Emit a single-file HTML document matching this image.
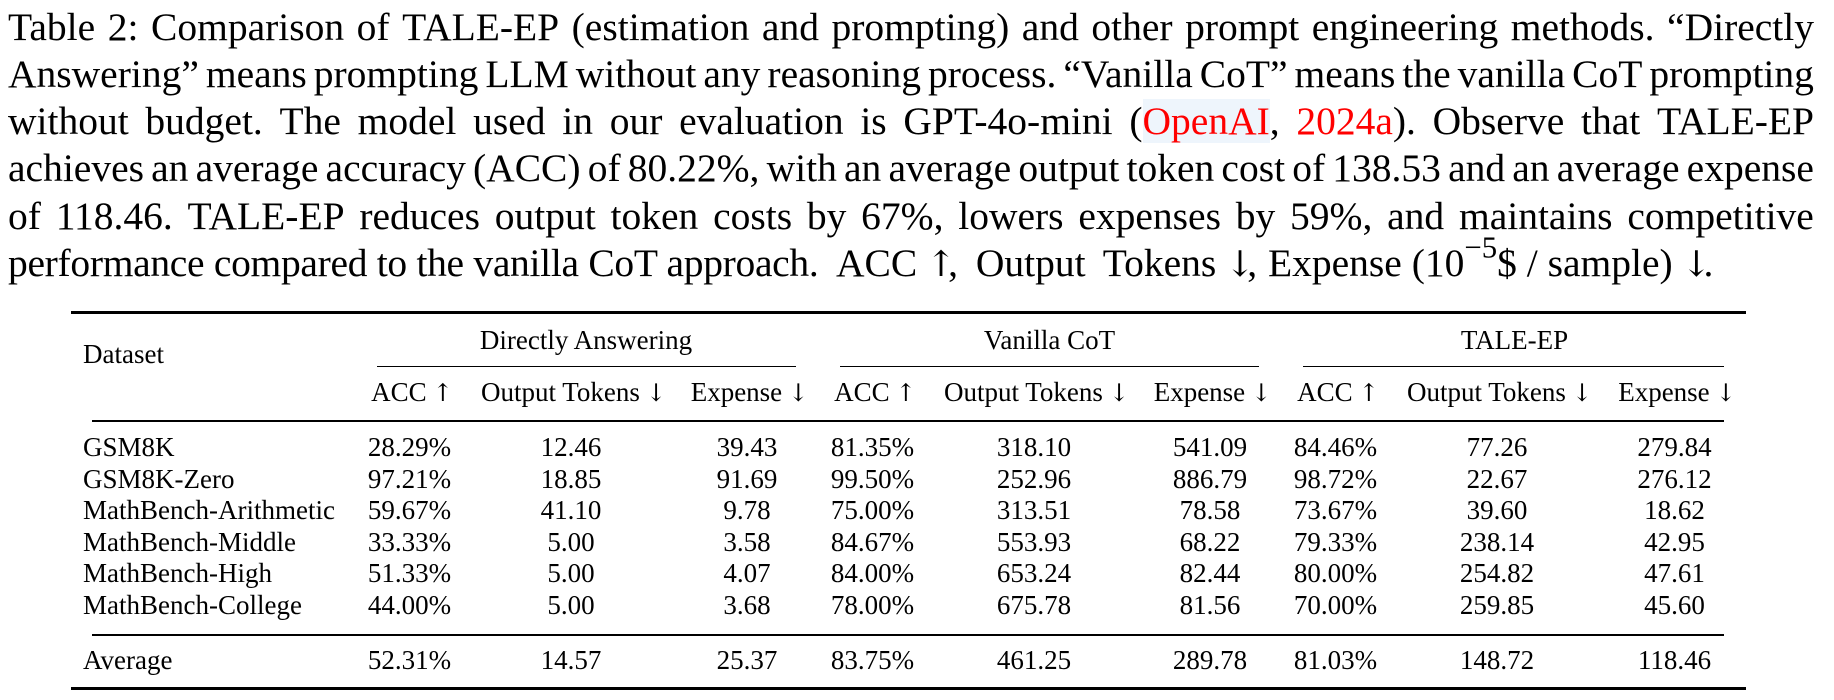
<!DOCTYPE html>
<html>
<head>
<meta charset="utf-8">
<style>
  html,body{margin:0;padding:0;background:#fff;}
  body{width:1834px;height:700px;position:relative;overflow:hidden;
       font-family:"Liberation Serif","DejaVu Serif",serif;color:#000;}
  .cap{position:absolute;left:8px;width:1806px;display:flex;justify-content:space-between;
       font-size:39.5px;line-height:47.2px;white-space:nowrap;}
  .cap6{position:absolute;font-size:39.5px;line-height:47.2px;white-space:nowrap;}
  .red{color:#f00;}
  .hl{background:#eef5fc;}
  .a{display:inline-block;width:0.62em;margin-left:0.25em;text-align:center;
     font-family:"DejaVu Serif","Liberation Serif",serif;font-size:0.9em;}
  .rule{position:absolute;background:#000;}
  .row{position:absolute;left:0;width:1834px;height:27px;font-size:27px;line-height:27px;white-space:nowrap;}
  .c{position:absolute;width:240px;text-align:center;top:0;}
  .l{position:absolute;left:83px;top:0;}
  sup{font-size:0.78em;line-height:0;vertical-align:0.6em;}
</style>
</head>
<body>

<!-- Caption -->
<div class="cap" style="top:3.8px">
<span>Table</span><span>2:</span><span>Comparison</span><span>of</span><span>TALE-EP</span><span>(estimation</span><span>and</span><span>prompting)</span><span>and</span><span>other</span><span>prompt</span><span>engineering</span><span>methods.</span><span>“Directly</span>
</div>
<div class="cap" style="top:51px">
<span>Answering”</span><span>means</span><span>prompting</span><span>LLM</span><span>without</span><span>any</span><span>reasoning</span><span>process.</span><span>“Vanilla</span><span>CoT”</span><span>means</span><span>the</span><span>vanilla</span><span>CoT</span><span>prompting</span>
</div>
<div class="cap" style="top:98.2px">
<span>without</span><span>budget.</span><span>The</span><span>model</span><span>used</span><span>in</span><span>our</span><span>evaluation</span><span>is</span><span>GPT-4o-mini</span><span>(<span class="red hl">OpenAI</span>,</span><span><span class="red">2024a</span>).</span><span>Observe</span><span>that</span><span>TALE-EP</span>
</div>
<div class="cap" style="top:145.4px">
<span>achieves</span><span>an</span><span>average</span><span>accuracy</span><span>(ACC)</span><span>of</span><span>80.22%,</span><span>with</span><span>an</span><span>average</span><span>output</span><span>token</span><span>cost</span><span>of</span><span>138.53</span><span>and</span><span>an</span><span>average</span><span>expense</span>
</div>
<div class="cap" style="top:192.6px">
<span>of</span><span>118.46.</span><span>TALE-EP</span><span>reduces</span><span>output</span><span>token</span><span>costs</span><span>by</span><span>67%,</span><span>lowers</span><span>expenses</span><span>by</span><span>59%,</span><span>and</span><span>maintains</span><span>competitive</span>
</div>
<div class="cap6" style="top:239.8px;left:8px;letter-spacing:-0.3px">performance compared to the vanilla CoT approach.</div>
<div class="cap6" style="top:239.8px;left:836px;word-spacing:8px">ACC<span class="a">↑</span>, Output Tokens<span class="a">↓</span>,</div>
<div class="cap6" style="top:239.8px;left:1268px">Expense (10<sup>−5</sup>$ / sample)<span class="a">↓</span>.</div>

<!-- Rules -->
<div class="rule" style="left:71px;width:1675px;top:310.5px;height:3.3px"></div>
<div class="rule" style="left:377px;width:419px;top:366px;height:1.4px"></div>
<div class="rule" style="left:840px;width:419px;top:366px;height:1.4px"></div>
<div class="rule" style="left:1303px;width:421px;top:366px;height:1.4px"></div>
<div class="rule" style="left:92px;width:1632px;top:420px;height:2px"></div>
<div class="rule" style="left:92px;width:1632px;top:634.3px;height:1.9px"></div>
<div class="rule" style="left:71px;width:1675px;top:687px;height:3.2px"></div>

<!-- Header row 1 -->
<div class="row" style="top:327.4px">
  <div class="c" style="left:466px">Directly Answering</div>
  <div class="c" style="left:929.5px">Vanilla CoT</div>
  <div class="c" style="left:1394.5px">TALE-EP</div>
</div>
<div class="row" style="top:341.4px">
  <div class="l">Dataset</div>
</div>

<!-- Header row 2 -->
<div class="row" style="top:379.1px">
  <div class="c" style="left:289.5px">ACC<span class="a">↑</span></div>
  <div class="c" style="left:451px">Output Tokens<span class="a">↓</span></div>
  <div class="c" style="left:627px">Expense<span class="a">↓</span></div>
  <div class="c" style="left:752.5px">ACC<span class="a">↑</span></div>
  <div class="c" style="left:914px">Output Tokens<span class="a">↓</span></div>
  <div class="c" style="left:1090px">Expense<span class="a">↓</span></div>
  <div class="c" style="left:1215.5px">ACC<span class="a">↑</span></div>
  <div class="c" style="left:1377px">Output Tokens<span class="a">↓</span></div>
  <div class="c" style="left:1554.5px">Expense<span class="a">↓</span></div>
</div>

<!-- Data rows -->
<div class="row" style="top:434.4px">
  <div class="l">GSM8K</div>
  <div class="c" style="left:289.5px">28.29%</div>
  <div class="c" style="left:451px">12.46</div>
  <div class="c" style="left:627px">39.43</div>
  <div class="c" style="left:752.5px">81.35%</div>
  <div class="c" style="left:914px">318.10</div>
  <div class="c" style="left:1090px">541.09</div>
  <div class="c" style="left:1215.5px">84.46%</div>
  <div class="c" style="left:1377px">77.26</div>
  <div class="c" style="left:1554.5px">279.84</div>
</div>
<div class="row" style="top:465.9px">
  <div class="l">GSM8K-Zero</div>
  <div class="c" style="left:289.5px">97.21%</div>
  <div class="c" style="left:451px">18.85</div>
  <div class="c" style="left:627px">91.69</div>
  <div class="c" style="left:752.5px">99.50%</div>
  <div class="c" style="left:914px">252.96</div>
  <div class="c" style="left:1090px">886.79</div>
  <div class="c" style="left:1215.5px">98.72%</div>
  <div class="c" style="left:1377px">22.67</div>
  <div class="c" style="left:1554.5px">276.12</div>
</div>
<div class="row" style="top:497.4px">
  <div class="l">MathBench-Arithmetic</div>
  <div class="c" style="left:289.5px">59.67%</div>
  <div class="c" style="left:451px">41.10</div>
  <div class="c" style="left:627px">9.78</div>
  <div class="c" style="left:752.5px">75.00%</div>
  <div class="c" style="left:914px">313.51</div>
  <div class="c" style="left:1090px">78.58</div>
  <div class="c" style="left:1215.5px">73.67%</div>
  <div class="c" style="left:1377px">39.60</div>
  <div class="c" style="left:1554.5px">18.62</div>
</div>
<div class="row" style="top:528.9px">
  <div class="l">MathBench-Middle</div>
  <div class="c" style="left:289.5px">33.33%</div>
  <div class="c" style="left:451px">5.00</div>
  <div class="c" style="left:627px">3.58</div>
  <div class="c" style="left:752.5px">84.67%</div>
  <div class="c" style="left:914px">553.93</div>
  <div class="c" style="left:1090px">68.22</div>
  <div class="c" style="left:1215.5px">79.33%</div>
  <div class="c" style="left:1377px">238.14</div>
  <div class="c" style="left:1554.5px">42.95</div>
</div>
<div class="row" style="top:560.4px">
  <div class="l">MathBench-High</div>
  <div class="c" style="left:289.5px">51.33%</div>
  <div class="c" style="left:451px">5.00</div>
  <div class="c" style="left:627px">4.07</div>
  <div class="c" style="left:752.5px">84.00%</div>
  <div class="c" style="left:914px">653.24</div>
  <div class="c" style="left:1090px">82.44</div>
  <div class="c" style="left:1215.5px">80.00%</div>
  <div class="c" style="left:1377px">254.82</div>
  <div class="c" style="left:1554.5px">47.61</div>
</div>
<div class="row" style="top:591.9px">
  <div class="l">MathBench-College</div>
  <div class="c" style="left:289.5px">44.00%</div>
  <div class="c" style="left:451px">5.00</div>
  <div class="c" style="left:627px">3.68</div>
  <div class="c" style="left:752.5px">78.00%</div>
  <div class="c" style="left:914px">675.78</div>
  <div class="c" style="left:1090px">81.56</div>
  <div class="c" style="left:1215.5px">70.00%</div>
  <div class="c" style="left:1377px">259.85</div>
  <div class="c" style="left:1554.5px">45.60</div>
</div>
<div class="row" style="top:646.9px">
  <div class="l">Average</div>
  <div class="c" style="left:289.5px">52.31%</div>
  <div class="c" style="left:451px">14.57</div>
  <div class="c" style="left:627px">25.37</div>
  <div class="c" style="left:752.5px">83.75%</div>
  <div class="c" style="left:914px">461.25</div>
  <div class="c" style="left:1090px">289.78</div>
  <div class="c" style="left:1215.5px">81.03%</div>
  <div class="c" style="left:1377px">148.72</div>
  <div class="c" style="left:1554.5px">118.46</div>
</div>

</body>
</html>
